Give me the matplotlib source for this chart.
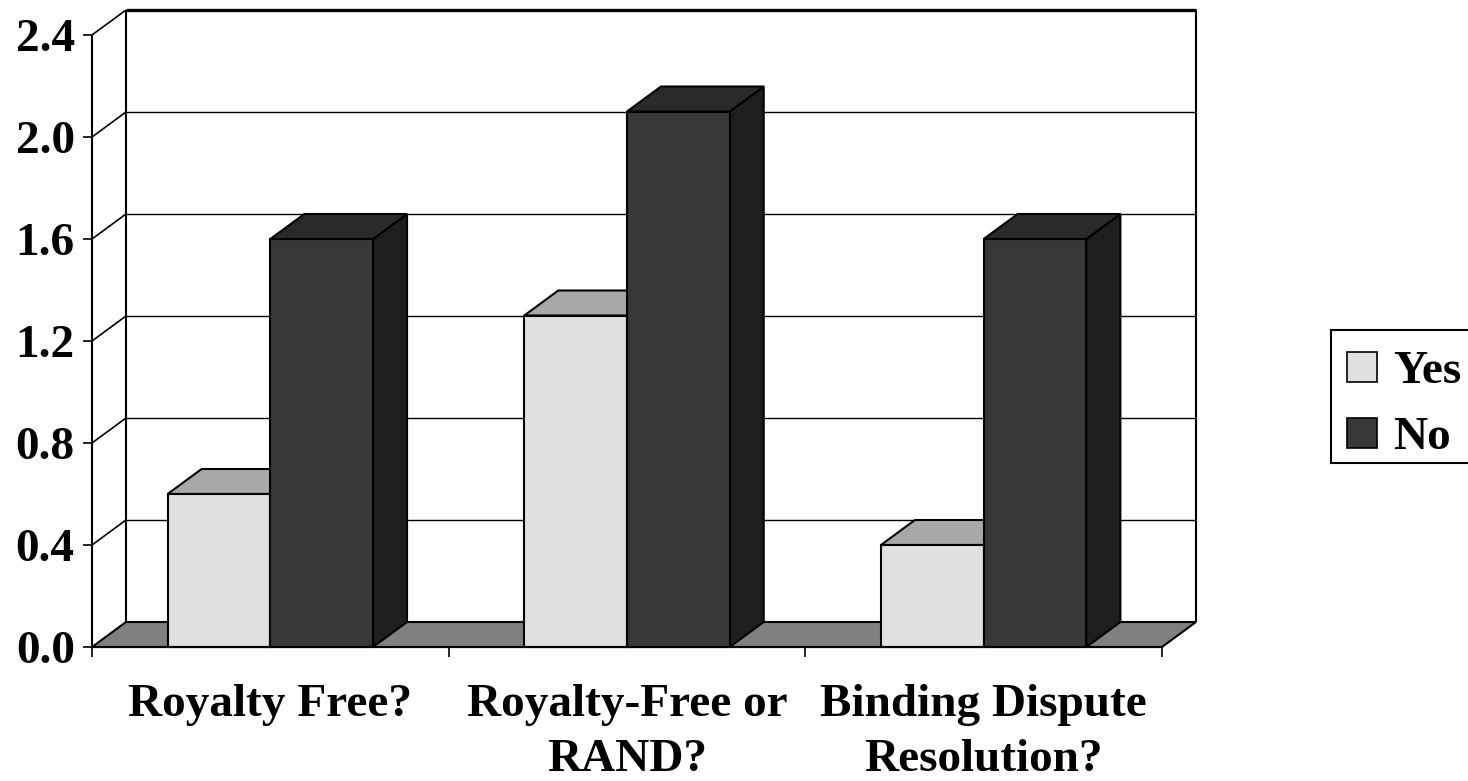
import matplotlib
matplotlib.use("Agg")
import matplotlib.pyplot as plt
from matplotlib.patches import Polygon, Rectangle

# data
categories = ["Royalty Free?", "Royalty-Free or\nRAND?", "Binding Dispute\nResolution?"]
yes_vals = [0.6, 1.3, 0.4]
no_vals = [1.6, 2.1, 1.6]
series = ["Yes", "No"]
yticks = [0.0, 0.4, 0.8, 1.2, 1.6, 2.0, 2.4]

# colours: front, top, side
yes_cols = ("#e0e0e0", "#a8a8a8", "#b8b8b8")
no_cols = ("#383838", "#2a2a2a", "#1e1e1e")
floor_col = "#808080"

W, H = 1468, 781
fig = plt.figure(figsize=(W / 100, H / 100), dpi=100)
font = dict(family="Liberation Serif", weight="bold", size=34)

# front plane of the plot box, in pixels
x0, x1, y0, y1 = 92, 1162, 647, 35
ax = fig.add_axes([x0 / W, (H - y0) / H, (x1 - x0) / W, (y0 - y1) / H])
ax.set_xlim(0, 3)
ax.set_ylim(0, 2.4)
ax.patch.set_visible(False)

# depth offset in data units
dx = 34 / ((x1 - x0) / 3)
dy = 25 / ((y0 - y1) / 2.4)
top = yticks[-1]
n = len(categories)

def poly(pts, fc, z, lw=1.5):
    ax.add_patch(Polygon(pts, closed=True, facecolor=fc, edgecolor="black",
                         linewidth=lw, zorder=z, clip_on=False, joinstyle="miter"))

def line(xs, ys, lw=1.0, z=1):
    ax.plot(xs, ys, color="black", linewidth=lw, zorder=z, clip_on=False,
            solid_capstyle="butt")

# back wall gridlines and the diagonals on the side wall
for v in yticks[1:]:
    line([dx, n + dx], [v + dy, v + dy], lw=2.4 if v == top else 1.0)
    line([0, dx], [v, v + dy], lw=1.2)
line([dx, dx], [dy, top + dy], lw=1.5)
line([n + dx, n + dx], [dy, top + dy], lw=1.5)

# floor
poly([(0, 0), (n, 0), (n + dx, dy), (dx, dy)], floor_col, 2)

# bars
bw = 0.288
z = 3
for i in range(n):
    for j, (vals, cols) in enumerate([(yes_vals, yes_cols), (no_vals, no_cols)]):
        h = vals[i]
        a = i + 0.5 - bw + j * bw
        b = a + bw
        poly([(b, 0), (b + dx, dy), (b + dx, h + dy), (b, h)], cols[2], z)
        poly([(a, h), (b, h), (b + dx, h + dy), (a + dx, h + dy)], cols[1], z)
        poly([(a, 0), (b, 0), (b, h), (a, h)], cols[0], z)
        z += 1

# axes, ticks and labels
for s in ["top", "right"]:
    ax.spines[s].set_visible(False)
for s in ["left", "bottom"]:
    ax.spines[s].set_linewidth(1.5)
    ax.spines[s].set_zorder(20)
ax.set_yticks(yticks)
ax.set_yticklabels([f"{v:.1f}" for v in yticks], fontdict=font)
ax.tick_params(axis="y", direction="out", length=6.5, width=1.2, pad=6)
ax.set_xticks(range(n + 1))
ax.set_xticklabels([])
ax.tick_params(axis="x", which="major", direction="out", length=7.5, width=1.2)
ax.set_xticks([i + 0.5 for i in range(n)], minor=True)
ax.set_xticklabels(categories, minor=True, fontdict=font, linespacing=1.4)
ax.tick_params(axis="x", which="minor", length=0, pad=27)

# legend box
lx0, lx1, ly0, ly1 = 1331, 1490, 330, 463
fig.patches.append(Rectangle((lx0 / W, (H - ly1) / H), (lx1 - lx0) / W, (ly1 - ly0) / H,
                             transform=fig.transFigure, facecolor="white",
                             edgecolor="black", linewidth=1.5))
for k, (name, col) in enumerate(zip(series, [yes_cols[0], no_cols[0]])):
    cy = 367 + k * 66
    fig.patches.append(Rectangle((1347 / W, (H - cy - 15) / H), 30 / W, 30 / H,
                                 transform=fig.transFigure, facecolor=col,
                                 edgecolor="black", linewidth=1.2))
    fig.text(1393 / W, (H - cy) / H, name, va="center_baseline", ha="left", **font)

fig.savefig("out.png", dpi=100)
